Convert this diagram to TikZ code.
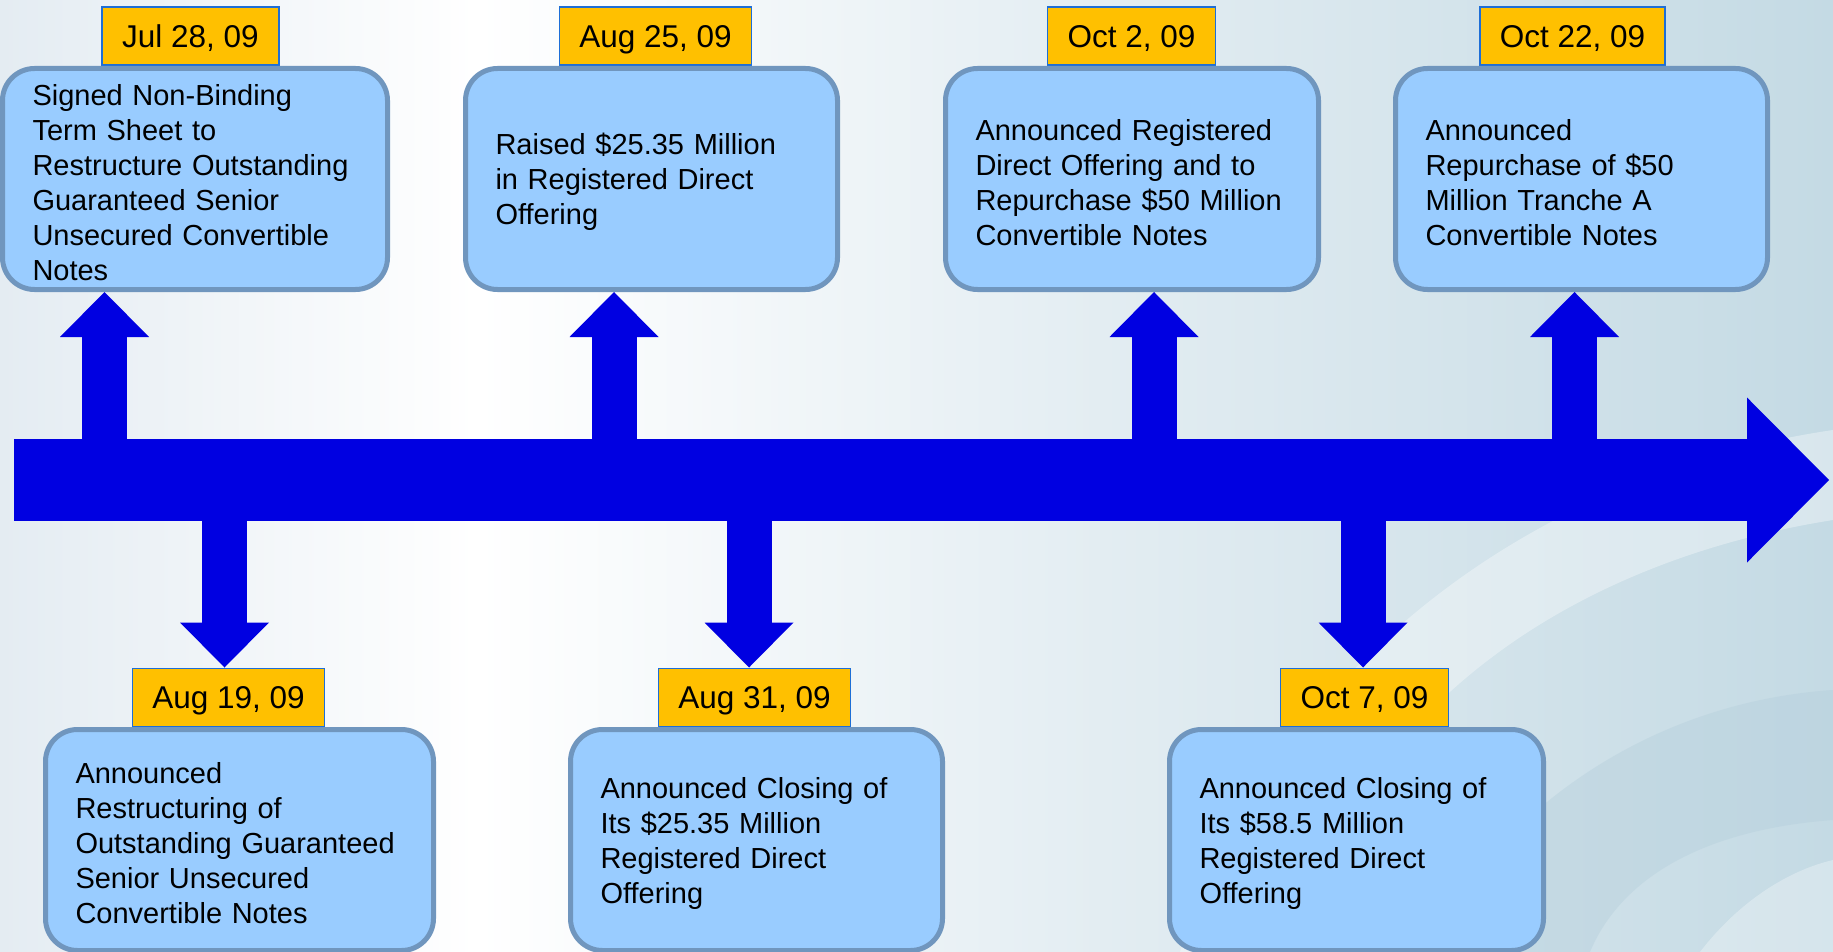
\documentclass[tikz,border=0pt]{standalone}
\usepackage{fontspec}
\setmainfont{Liberation Sans}
\usetikzlibrary{arrows.meta}

\definecolor{boxfill}{HTML}{99CCFF}
\definecolor{boxline}{HTML}{7096BE}
\definecolor{datefill}{HTML}{FFC000}
\definecolor{dateline}{HTML}{1E6ED6}
\definecolor{tlblue}{HTML}{0000E1}
\definecolor{bgL}{HTML}{E4ECF2}
\definecolor{bgM}{HTML}{E3EDF2}
\definecolor{bgR}{HTML}{C4DAE4}
\definecolor{bgD}{HTML}{B4CEDB}

\pgfdeclarehorizontalshading{bgshade}{100bp}{color(0bp)=(bgL); color(25bp)=(bgL);
  color(38bp)=(white); color(55bp)=(bgM); color(75bp)=(bgR); color(100bp)=(bgR)}

\tikzset{
  event/.style={draw=boxline, line width=5pt, fill=boxfill, rounded corners=32pt,
    minimum height=221pt, inner xsep=30pt, text width=#1, align=left,
    font=\fontsize{29}{35}\selectfont, execute at begin node={\rule{0pt}{28pt}}},
  date/.style={draw=dateline, line width=1.5pt, fill=datefill, anchor=south,
    minimum height=58pt, inner xsep=20pt, text height=27pt, text depth=5pt,
    font=\fontsize{31.5}{36}\selectfont},
  stem/.style={draw=tlblue, line width=45pt,
    -{Triangle[width=89pt, length=45pt, line width=0pt]}},
  spine/.style={draw=tlblue, line width=82pt,
    -{Triangle[width=165pt, length=82pt, line width=0pt]}}
}

\begin{document}
\begin{tikzpicture}[x=1pt,y=-1pt]
\useasboundingbox (0,0) rectangle (1833,952);
\shade[shading=bgshade] (0,0) rectangle (1833,952);
% swooshes on the right
\fill[white, opacity=.35] (1180,952) .. controls (1290,640) and (1560,470) .. (1833,430)
  -- (1833,520) .. controls (1580,560) and (1360,700) .. (1290,952) -- cycle;
\fill[bgD, opacity=.4] (1420,952) .. controls (1520,780) and (1680,700) .. (1833,690)
  -- (1833,820) .. controls (1700,830) and (1620,880) .. (1590,952) -- cycle;
\fill[white, opacity=.3] (1700,952) .. controls (1740,900) and (1790,870) .. (1833,860)
  -- (1833,952) -- cycle;

% dates
\node[date](d1) at (190.5,66){Jul 28, 09};
\node[date](d2) at (655.5,66){Aug 25, 09};
\node[date](d3) at (1131.5,66){Oct 2, 09};
\node[date](d4) at (1572.5,66){Oct 22, 09};
\node[date](d5) at (228.5,727){Aug 19, 09};
\node[date](d6) at (754.5,727){Aug 31, 09};
\node[date](d7) at (1364.5,727){Oct 7, 09};

% events
\node[event=325pt](e1) at (195,179){Signed Non-Binding\\Term Sheet to\\Restructure Outstanding\\Guaranteed Senior\\Unsecured Convertible\\Notes};
\node[event=312pt](e2) at (651.5,179){Raised \$25.35 Million\\in Registered Direct\\Offering};
\node[event=313pt](e3) at (1132,179){Announced Registered\\Direct Offering and to\\Repurchase \$50 Million\\Convertible Notes};
\node[event=312pt](e4) at (1581.5,179){Announced\\Repurchase of \$50\\Million Tranche A\\Convertible Notes};
\node[event=328pt](e5) at (239.5,840){Announced\\Restructuring of\\Outstanding Guaranteed\\Senior Unsecured\\Convertible Notes};
\node[event=312pt](e6) at (756.5,840){Announced Closing of\\Its \$25.35 Million\\Registered Direct\\Offering};
\node[event=314pt](e7) at (1356.5,840){Announced Closing of\\Its \$58.5 Million\\Registered Direct\\Offering};

% timeline
\coordinate (t0) at (14,480);
\coordinate (tend) at (1829,480);
\coordinate (t1) at (104.5,480);
\coordinate (t2) at (614,480);
\coordinate (t3) at (1154,480);
\coordinate (t4) at (1574.5,480);
\coordinate (t5) at (224.5,480);
\coordinate (t6) at (749,480);
\coordinate (t7) at (1363,480);
\draw[stem] (t1) -- (t1 |- e1.south);
\draw[stem] (t2) -- (t2 |- e2.south);
\draw[stem] (t3) -- (t3 |- e3.south);
\draw[stem] (t4) -- (t4 |- e4.south);
\draw[stem] (t5) -- (t5 |- d5.north);
\draw[stem] (t6) -- (t6 |- d6.north);
\draw[stem] (t7) -- (t7 |- d7.north);
\draw[spine] (t0) -- (tend);
\end{tikzpicture}
\end{document}
